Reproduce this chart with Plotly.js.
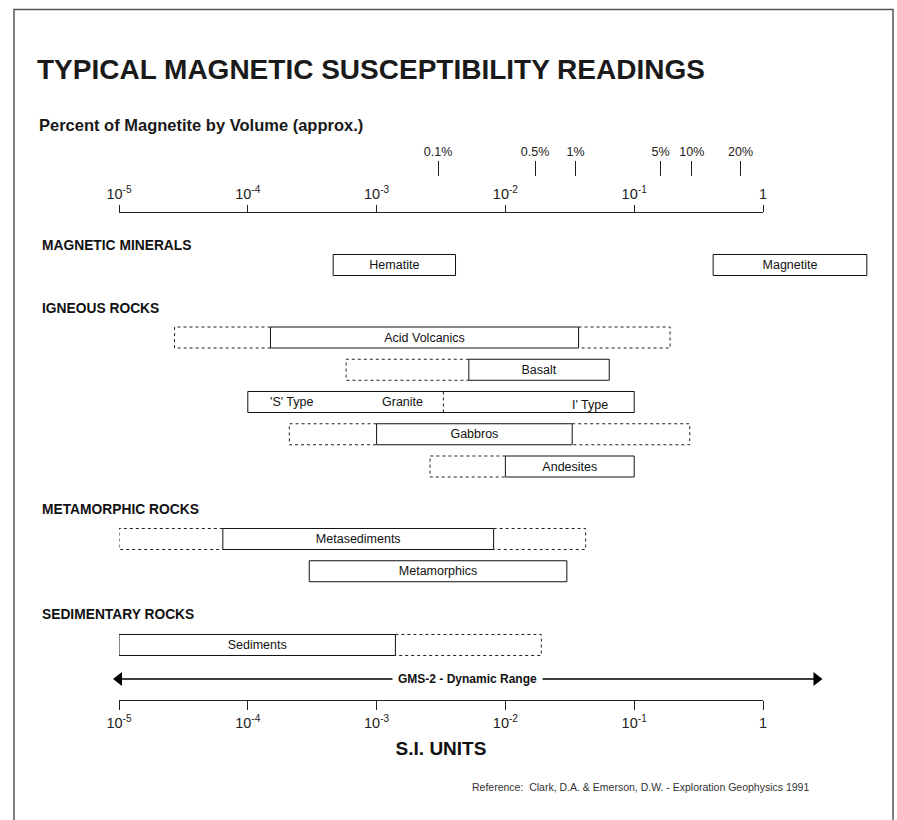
<!DOCTYPE html>
<html><head><meta charset="utf-8">
<script src="https://cdn.plot.ly/plotly-3.0.1.min.js"></script>
<style>html,body{margin:0;padding:0;background:#fff}#chart{width:897px;height:820px}</style>
</head><body><div id="chart"></div>
<script>
// ---------------- data ----------------
const decadeValues = [1e-5, 1e-4, 1e-3, 1e-2, 1e-1, 1];
const decadeLabels = ['10<sup>-5</sup>', '10<sup>-4</sup>', '10<sup>-3</sup>', '10<sup>-2</sup>', '10<sup>-1</sup>', '1'];
const percentLabels = ['0.1%', '0.5%', '1%', '5%', '10%', '20%'];
const percentValues = [0.003, 0.017, 0.035, 0.16, 0.28, 0.67];

const groupNames = ['MAGNETIC MINERALS', 'IGNEOUS ROCKS', 'METAMORPHIC ROCKS', 'SEDIMENTARY ROCKS'];
const rockNames  = ['Hematite', 'Magnetite', 'Acid Volcanics', 'Basalt', 'Granite', 'Gabbros', 'Andesites', 'Metasediments', 'Metamorphics', 'Sediments'];
const rockGroups = [0, 0, 1, 1, 1, 1, 1, 2, 2, 3];
const rockRows   = ['Minerals', 'Minerals', 'Acid Volcanics', 'Basalt', 'Granite', 'Gabbros', 'Andesites', 'Metasediments', 'Metamorphics', 'Sediments'];
const typicalLow  = [4.6e-4, 0.41, 1.5e-4, 5.2e-3, 1.0e-4, 1.0e-3, 0.010, 6.4e-5, 3.0e-4, 1.0e-5];
const typicalHigh = [4.1e-3, 6.4, 0.037, 0.064, 0.10, 0.033, 0.10, 8.1e-3, 0.030, 1.4e-3];
const extendedLow  = [null, null, 2.7e-5, 5.8e-4, null, 2.1e-4, 2.6e-3, 1.0e-5, null, null];
const extendedHigh = [null, null, 0.19, null, null, 0.27, null, 0.042, null, 0.019];
const graniteSplit = 3.3e-3;
const graniteLabels = ["'S' Type", 'Granite', "I' Type"];
const rangeName = 'GMS-2 - Dynamic Range';
const rangeLow = 1e-5;
const rangeHigh = 2.6;

// ---------------- layout geometry (pixels) ----------------
const W = 897, H = 820;
const FONT = 'Liberation Sans, Arial, Helvetica, sans-serif';
const X0 = 119, DEC = 128.8, XEND = 885;
const py = px => 1 - px / H;
const PITCH = 32.25, BOXH = 21, HB = BOXH / PITCH / 2;
const groupFirstRow = [265, 337.5, 539, 645];
const headerPx = [245, 308, 509, 614];
const arrowPx = 679;

const xDomMain = [X0 / W, XEND / W];
const xRangeMain = [-5, -5 + (XEND - X0) / DEC];
const xDomAxis = [X0 / W, (X0 + 5 * DEC) / W];

const yId = g => g === 0 ? 'y' : 'y' + (g + 1);
const yKey = g => g === 0 ? 'yaxis' : 'yaxis' + (g + 1);

// row index within each group from order of appearance
const groupRowList = groupNames.map(() => []);
rockRows.forEach((r, i) => {
  const lst = groupRowList[rockGroups[i]];
  if (!lst.includes(r)) lst.push(r);
});
const rowIndex = rockRows.map((r, i) => groupRowList[rockGroups[i]].indexOf(r));

const traces = [];
const layout = {
  width: W, height: H,
  margin: {l: 0, r: 0, t: 0, b: 0},
  paper_bgcolor: '#ffffff', plot_bgcolor: 'rgba(0,0,0,0)',
  showlegend: false, barmode: 'overlay',
  font: {family: FONT, color: '#1a1a1a'},
  title: {
    text: 'TYPICAL MAGNETIC SUSCEPTIBILITY READINGS',
    font: {family: FONT, size: 28, weight: 700, color: '#1a1a1a'},
    x: 37 / W, xanchor: 'left', xref: 'paper',
    y: py(69), yanchor: 'middle', yref: 'paper'
  },
  xaxis: {type: 'log', domain: xDomMain, range: xRangeMain, visible: false, fixedrange: true, anchor: 'y'},
  annotations: [], shapes: []
};

// group y axes + boxes
groupNames.forEach((gname, g) => {
  const n = groupRowList[g].length;
  const top = groupFirstRow[g] - PITCH / 2;
  const bot = groupFirstRow[g] + (n - 0.5) * PITCH;
  layout[yKey(g)] = {domain: [py(bot), py(top)], range: [n - 0.5, -0.5], visible: false, fixedrange: true, anchor: 'x'};
  const idx = rockNames.map((_, i) => i).filter(i => rockGroups[i] === g);
  // dotted extensions
  idx.forEach(i => {
    const r = rowIndex[i];
    if (extendedLow[i] !== null) {
      traces.push({type: 'scatter', mode: 'lines', xaxis: 'x', yaxis: yId(g),
        x: [typicalLow[i], extendedLow[i], extendedLow[i], typicalLow[i]],
        y: [r - HB, r - HB, r + HB, r + HB],
        line: {color: '#222', width: 1, dash: 'dot'}, hoverinfo: 'skip'});
    }
    if (extendedHigh[i] !== null) {
      traces.push({type: 'scatter', mode: 'lines', xaxis: 'x', yaxis: yId(g),
        x: [typicalHigh[i], extendedHigh[i], extendedHigh[i], typicalHigh[i]],
        y: [r - HB, r - HB, r + HB, r + HB],
        line: {color: '#222', width: 1, dash: 'dot'}, hoverinfo: 'skip'});
    }
  });
  // solid boxes
  traces.push({
    type: 'bar', orientation: 'h', xaxis: 'x', yaxis: yId(g),
    y: idx.map(i => rowIndex[i]),
    base: idx.map(i => typicalLow[i]),
    x: idx.map(i => typicalHigh[i] - typicalLow[i]),
    width: BOXH / PITCH,
    text: idx.map(i => rockNames[i] === 'Granite' ? '' : rockNames[i]),
    textposition: 'inside', insidetextanchor: 'middle', constraintext: 'none',
    textfont: {family: FONT, size: 12.5, color: '#111'},
    marker: {color: '#ffffff', line: {color: '#111', width: 1}},
    hoverinfo: 'skip'
  });
  // header
  layout.annotations.push({text: gname, xref: 'paper', yref: 'paper', x: 39.5 / W, y: py(headerPx[g]),
    xanchor: 'left', yanchor: 'middle', showarrow: false,
    font: {family: FONT, size: 13.8, weight: 700, color: '#111'}});
});

// granite split & labels
const gi = rockNames.indexOf('Granite');
const gr = rowIndex[gi], gAxis = yId(rockGroups[gi]);
traces.push({type: 'scatter', mode: 'lines', xaxis: 'x', yaxis: gAxis,
  x: [graniteSplit, graniteSplit], y: [gr - HB, gr + HB],
  line: {color: '#222', width: 1, dash: 'dot'}, hoverinfo: 'skip'});
const gFont = {family: FONT, size: 12.5, color: '#111'};
layout.annotations.push(
  {text: graniteLabels[0], xref: 'x', yref: gAxis, x: Math.log10(typicalLow[gi]), y: gr, xanchor: 'left', xshift: 20, showarrow: false, font: gFont},
  {text: graniteLabels[1], xref: 'x', yref: gAxis, x: Math.log10(graniteSplit), y: gr, xanchor: 'right', xshift: -18, showarrow: false, font: gFont},
  {text: graniteLabels[2], xref: 'x', yref: gAxis, x: Math.log10(typicalHigh[gi]), y: gr + 0.1, xanchor: 'right', xshift: -24, showarrow: false, font: gFont}
);

// dynamic range arrow
layout.yaxis5 = {domain: [py(arrowPx + PITCH / 2), py(arrowPx - PITCH / 2)], range: [0.5, -0.5], visible: false, fixedrange: true, anchor: 'x'};
traces.push({type: 'scatter', mode: 'lines+markers', xaxis: 'x', yaxis: 'y5',
  x: [rangeLow, rangeHigh], y: [0, 0],
  line: {color: '#000', width: 1.5},
  marker: {symbol: ['triangle-left', 'triangle-right'], size: 12, color: '#000'},
  cliponaxis: false, hoverinfo: 'skip'});
layout.annotations.push({text: rangeName, xref: 'x', yref: 'y5',
  x: (Math.log10(rangeLow) + Math.log10(rangeHigh)) / 2, y: 0,
  showarrow: false, bgcolor: '#ffffff', borderpad: 5,
  font: {family: FONT, size: 12, weight: 700, color: '#111'}});

// scale axes (top decades, percent magnetite, bottom decades)
const axisCommon = {type: 'log', domain: xDomAxis, range: [-5, 0], anchor: 'free',
  showgrid: false, zeroline: false, fixedrange: true, automargin: false,
  linecolor: '#222', tickcolor: '#222', tickwidth: 1, ticks: 'outside'};
layout.xaxis2 = Object.assign({}, axisCommon, {side: 'top', position: py(212), showline: true, linewidth: 1.2, ticklen: 7,
  tickvals: decadeValues, ticktext: decadeLabels, tickfont: {family: FONT, size: 14.5, color: '#222'}});
layout.xaxis3 = Object.assign({}, axisCommon, {side: 'top', position: py(176), showline: false, ticklen: 15,
  tickvals: percentValues, ticktext: percentLabels, tickfont: {family: FONT, size: 12.5, color: '#222'}});
layout.xaxis4 = Object.assign({}, axisCommon, {side: 'bottom', position: py(700), showline: true, linewidth: 1.2, ticklen: 9,
  tickvals: decadeValues, ticktext: decadeLabels, tickfont: {family: FONT, size: 14.5, color: '#222'},
  title: {text: 'S.I. UNITS', standoff: 12, font: {family: FONT, size: 19, weight: 700, color: '#111'}}});
['x2', 'x3', 'x4'].forEach(ax => traces.push({type: 'scatter', mode: 'markers', xaxis: ax, yaxis: 'y',
  x: [decadeValues[0]], y: [null], hoverinfo: 'skip', showlegend: false}));

// subtitle, reference, frame
layout.annotations.push(
  {text: 'Percent of Magnetite by Volume (approx.)', xref: 'paper', yref: 'paper', x: 37 / W, y: py(125),
    xanchor: 'left', yanchor: 'middle', showarrow: false, font: {family: FONT, size: 16.5, weight: 700, color: '#1a1a1a'}},
  {text: 'Reference:  Clark, D.A. &amp; Emerson, D.W. - Exploration Geophysics 1991', xref: 'paper', yref: 'paper',
    x: 470 / W, y: py(787), xanchor: 'left', yanchor: 'middle', showarrow: false, font: {family: FONT, size: 10.5, color: '#333'}}
);
layout.shapes.push({type: 'rect', xref: 'paper', yref: 'paper', x0: 14 / W, x1: 893 / W, y0: -0.1, y1: py(9.5),
  line: {color: '#555', width: 1.5}, fillcolor: 'rgba(0,0,0,0)', layer: 'below'});

Plotly.newPlot('chart', traces, layout, {staticPlot: true, displayModeBar: false});
</script></body></html>
